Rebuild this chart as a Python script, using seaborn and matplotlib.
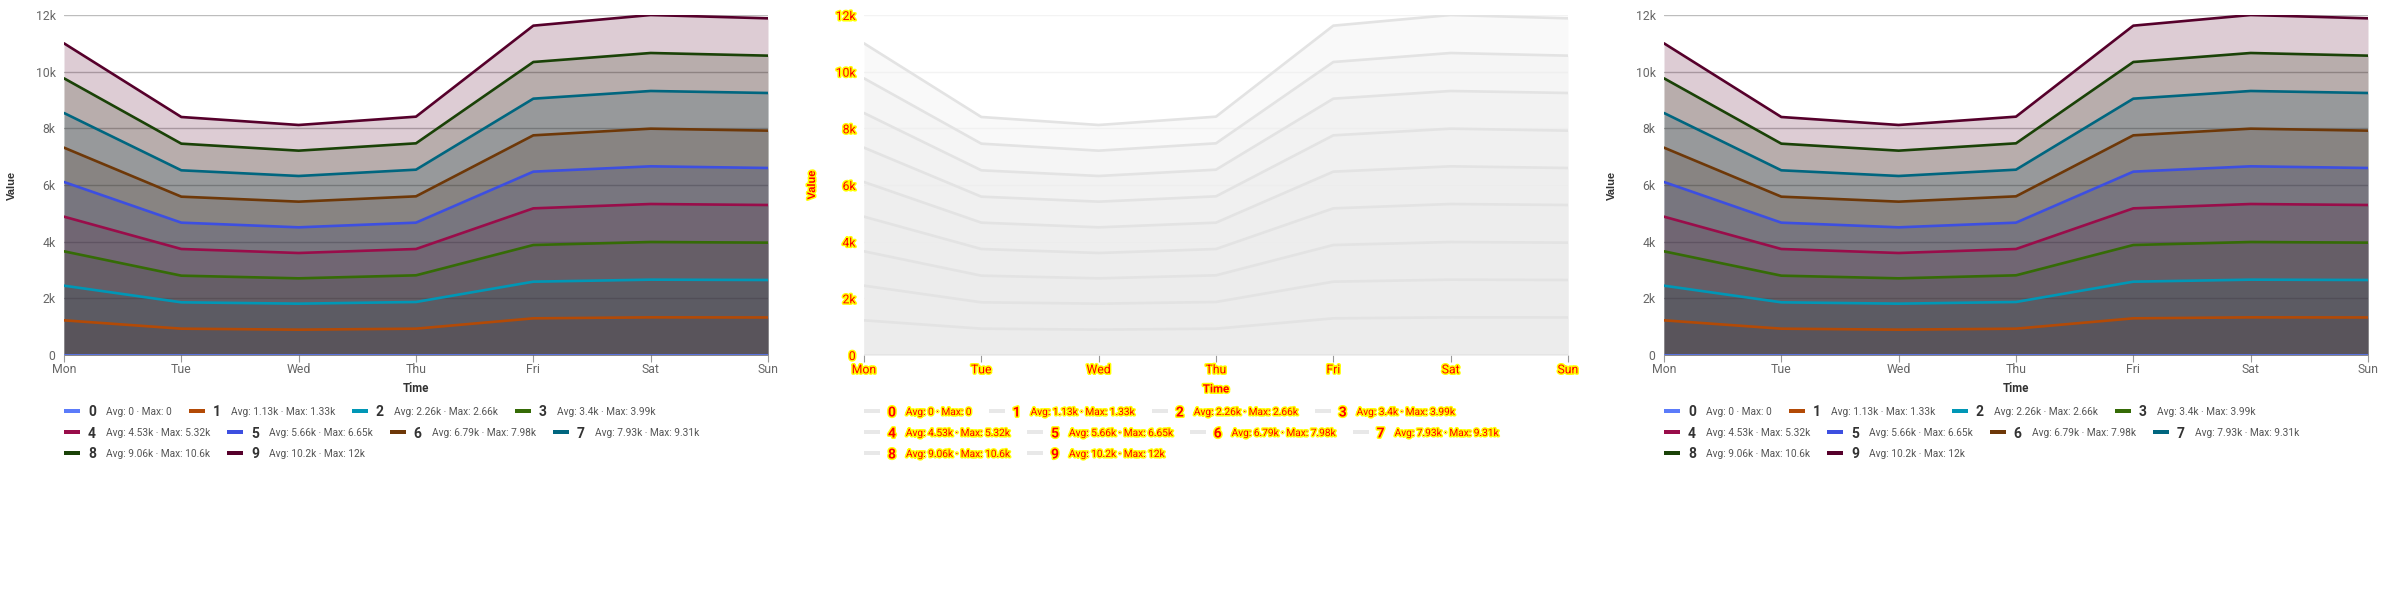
import numpy as np
import pandas as pd
import matplotlib
matplotlib.use("Agg")
import matplotlib.pyplot as plt
import matplotlib.patheffects as pe
from matplotlib.patches import Rectangle
import seaborn as sns

# ---------------- data ----------------
days = ["Mon", "Tue", "Wed", "Thu", "Fri", "Sat", "Sun"]
series_names = ["0", "1", "2", "3", "4", "5", "6", "7", "8", "9"]
s0 = [0, 0, 0, 0, 0, 0, 0]
s1 = [1224, 929, 894, 929, 1294, 1329, 1325]
s2 = [2447, 1859, 1812, 1871, 2588, 2659, 2647]
s3 = [3659, 2800, 2706, 2812, 3882, 3988, 3965]
s4 = [4882, 3741, 3600, 3741, 5176, 5329, 5294]
s5 = [6106, 4671, 4506, 4671, 6471, 6659, 6600]
s6 = [7318, 5588, 5412, 5600, 7753, 7988, 7918]
s7 = [8541, 6518, 6318, 6541, 9047, 9318, 9247]
s8 = [9765, 7459, 7212, 7471, 10341, 10659, 10565]
s9 = [11000, 8400, 8118, 8412, 11624, 12000, 11882]
series_values = [s0, s1, s2, s3, s4, s5, s6, s7, s8, s9]
legend_stats = ["Avg: 0 · Max: 0", "Avg: 1.13k · Max: 1.33k", "Avg: 2.26k · Max: 2.66k",
                "Avg: 3.4k · Max: 3.99k", "Avg: 4.53k · Max: 5.32k", "Avg: 5.66k · Max: 6.65k",
                "Avg: 6.79k · Max: 7.98k", "Avg: 7.93k · Max: 9.31k", "Avg: 9.06k · Max: 10.6k",
                "Avg: 10.2k · Max: 12k"]
y_ticks = [0, 2000, 4000, 6000, 8000, 10000, 12000]
y_ticklabels = ["0", "2k", "4k", "6k", "8k", "10k", "12k"]
colors = ["#5b7bfa", "#b34a06", "#0097b6", "#356b06", "#990d4a", "#3d4fe0",
          "#6e3808", "#00667f", "#1a4207", "#56002b"]

sns.set_theme(style="white")
plt.rcParams["font.family"] = ["Roboto", "DejaVu Sans"]

W, H = 2400, 600
fig = plt.figure(figsize=(24, 6), dpi=100)

df = pd.DataFrame([(n, d, v) for n, vals in zip(series_names, series_values)
                   for d, v in zip(days, vals)], columns=["series", "day", "value"])

rows_layout = [[0, 1, 2, 3], [4, 5, 6, 7], [8, 9]]
row_y = [411, 432, 453]

glitch_fx = [pe.withStroke(linewidth=2.2, foreground="#ffff00")]


def draw_panel(offset, glitch=False):
    left, right, top, bottom = 64, 768, 15, 355
    ax = fig.add_axes([(offset + left) / W, 1 - bottom / H, (right - left) / W, (bottom - top) / H])
    tcol = "#ff0000" if glitch else "#666666"
    lcol = "#ff0000" if glitch else "#333333"
    fx = glitch_fx if glitch else None
    # fills
    for i, vals in enumerate(series_values):
        if glitch:
            ax.fill_between(days, vals, 0, color="#ececec", alpha=0.28, lw=0, zorder=1)
        else:
            ax.fill_between(days, vals, 0, color=colors[i], alpha=0.2, lw=0, zorder=1)
    pal = {n: ("#e3e3e3" if glitch else c) for n, c in zip(series_names, colors)}
    sns.lineplot(data=df, x="day", y="value", hue="series", palette=pal, lw=1.9,
                 legend=False, sort=False, ax=ax, zorder=3)
    ax.set_xlim(0, 6)
    ax.set_ylim(0, 12000)
    ax.set_yticks(y_ticks)
    ax.set_yticklabels(y_ticklabels)
    ax.grid(axis="y", color="#f3f3f3" if glitch else "#bdbdbd", lw=1.0, zorder=0)
    ax.grid(axis="x", visible=False)
    for s in ax.spines.values():
        s.set_visible(False)
    ax.tick_params(axis="y", length=0, pad=6, labelsize=8.8, labelcolor=tcol)
    ax.tick_params(axis="x", length=5, width=0.8, color="#999999", pad=1, labelsize=8.8,
                   labelcolor=tcol, bottom=True)
    ax.set_xlabel("")
    ax.set_ylabel("")
    for lab in ax.get_xticklabels() + ax.get_yticklabels():
        if fx:
            lab.set_path_effects(fx)
    # axis titles
    fig.text((offset + 12) / W, 1 - 185 / H, "Value", rotation=90, ha="center", va="center",
             fontsize=8, fontweight="bold", color=lcol, family=["Liberation Sans", "DejaVu Sans"],
             path_effects=fx)
    fig.text((offset + 416) / W, 1 - 389 / H, "Time", ha="center", va="center",
             fontsize=8.3, fontweight="bold", color=lcol, path_effects=fx)
    # legend (flow layout)
    renderer = fig.canvas.get_renderer()
    for r, idxs in enumerate(rows_layout):
        x = offset + 64
        yc = 1 - row_y[r] / H
        for i in idxs:
            sw_col = "#e8e8e8" if glitch else colors[i]
            fig.patches.append(Rectangle((x / W, yc - 1.6 / H), 16 / W, 3.2 / H,
                                         transform=fig.transFigure, color=sw_col, lw=0))
            x += 16 + 8
            t = fig.text(x / W, yc, series_names[i], ha="left", va="center_baseline",
                         fontsize=10, fontweight="bold", color=lcol, path_effects=fx)
            x += t.get_window_extent(renderer).width + 10
            t2 = fig.text(x / W, yc, legend_stats[i], ha="left", va="center_baseline",
                          fontsize=7.3, color=("#ff0000" if glitch else "#555555"), path_effects=fx)
            x += t2.get_window_extent(renderer).width + 17
    return ax


draw_panel(0)
draw_panel(800, glitch=True)
draw_panel(1600)

fig.savefig("out.png", dpi=100, facecolor="white")
